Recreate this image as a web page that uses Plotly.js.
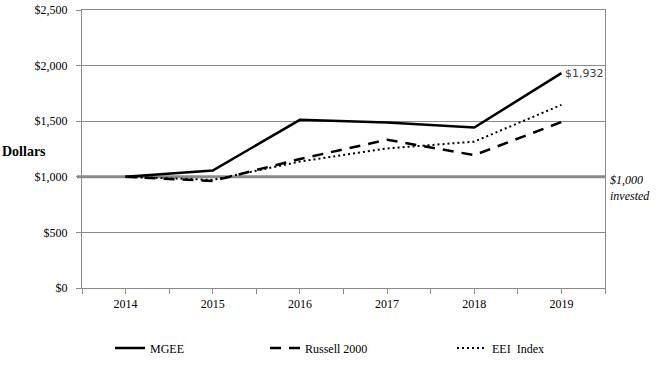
<!DOCTYPE html>
<html>
<head>
<meta charset="utf-8">
<script src="https://cdn.plot.ly/plotly-3.0.1.min.js"></script>
<style>
  html, body { margin: 0; padding: 0; background: #fff; }
  #chart { width: 664px; height: 377px; }
</style>
</head>
<body>
<div id="chart"></div>
<script>
// ---- data ----
const years = [2014, 2015, 2016, 2017, 2018, 2019];
const mgee = [1000, 1057, 1512, 1488, 1443, 1932];
const russell2000 = [1000, 962, 1160, 1333, 1195, 1493];
const eeiIndex = [1000, 972, 1137, 1255, 1316, 1647];
const seriesNames = ['MGEE', 'Russell 2000', 'EEI  Index'];
const yTicks = [0, 500, 1000, 1500, 2000, 2500];
const yTickText = ['$0', '$500', '$1,000', '$1,500', '$2,000', '$2,500'];
const baseline = 1000;
const endLabel = '$1,932';

const gray = '#8a8a8a';
const serif = 'Liberation Serif, Times New Roman, serif';

const traces = [
  { x: years, y: mgee, name: seriesNames[0], type: 'scatter', mode: 'lines',
    line: { color: '#000', width: 2.5 }, legend: 'legend' },
  { x: years, y: russell2000, name: seriesNames[1], type: 'scatter', mode: 'lines',
    line: { color: '#000', width: 2.5, dash: '11px,8px' }, legend: 'legend2' },
  { x: years, y: eeiIndex, name: seriesNames[2], type: 'scatter', mode: 'lines',
    line: { color: '#000', width: 2, dash: '2px,3px' }, legend: 'legend3' }
];

const W = 664, H = 377;
const mL = 82, mR = 59, mT = 10, mB = 89;
const pw = W - mL - mR, ph = H - mT - mB;
const px = v => (v - mL) / pw;
const py = v => (H - mB - v) / ph;

const legendBase = {
  orientation: 'h', yanchor: 'middle', xanchor: 'left',
  font: { family: serif, size: 12, color: '#000' },
  bgcolor: 'rgba(0,0,0,0)', borderwidth: 0
};

const layout = {
  width: W, height: H,
  margin: { l: mL, r: mR, t: mT, b: mB },
  paper_bgcolor: '#fff', plot_bgcolor: '#fff',
  font: { family: serif, size: 12, color: '#000' },
  showlegend: true,
  legend: Object.assign({}, legendBase, { x: px(110), y: py(348) }),
  legend2: Object.assign({}, legendBase, { x: px(265), y: py(348) }),
  legend3: Object.assign({}, legendBase, { x: px(452), y: py(348) }),
  xaxis: {
    type: 'linear', range: [years[0] - 0.5, years[years.length - 1] + 0.5],
    tickvals: years, ticktext: years.map(String),
    ticks: 'outside', ticklen: 5, tickcolor: gray, tickwidth: 1,
    minor: { tick0: years[0] - 0.5, dtick: 0.5, ticks: 'outside', ticklen: 5, tickcolor: gray, showgrid: false },
    showline: true, linecolor: gray, linewidth: 1, mirror: true,
    showgrid: false, zeroline: false, fixedrange: true,
    tickfont: { family: serif, size: 12, color: '#000' }
  },
  yaxis: {
    range: [0, 2500], tickvals: yTicks, ticktext: yTickText,
    ticks: 'outside', ticklen: 5, tickcolor: gray, tickwidth: 1,
    ticklabelstandoff: 6,
    showline: true, linecolor: gray, linewidth: 1, mirror: true,
    showgrid: true, gridcolor: gray, gridwidth: 1, zeroline: false, fixedrange: true,
    tickfont: { family: serif, size: 12, color: '#000' }
  },
  shapes: [
    { type: 'line', xref: 'paper', yref: 'y', x0: px(77), x1: 1, y0: baseline, y1: baseline,
      line: { color: gray, width: 3 }, layer: 'below' }
  ],
  annotations: [
    { xref: 'paper', yref: 'paper', x: px(0), y: py(152), xanchor: 'left', yanchor: 'middle',
      text: '<b>Dollars</b>', showarrow: false, font: { family: serif, size: 14, color: '#000' } },
    { xref: 'x', yref: 'y', x: years[years.length - 1], y: mgee[mgee.length - 1],
      xanchor: 'left', yanchor: 'middle', xshift: 2, text: endLabel, showarrow: false,
      font: { family: 'DejaVu Sans, Verdana, sans-serif', size: 11, color: '#404040' } },
    { xref: 'paper', yref: 'y', x: 1, y: baseline, xanchor: 'left', yanchor: 'top',
      xshift: 3, yshift: 6, align: 'left',
      text: '<i>$1,000<br>invested</i>', showarrow: false,
      font: { family: serif, size: 12, color: '#000' } }
  ]
};

Plotly.newPlot('chart', traces, layout, { staticPlot: true, displayModeBar: false });
</script>
</body>
</html>
